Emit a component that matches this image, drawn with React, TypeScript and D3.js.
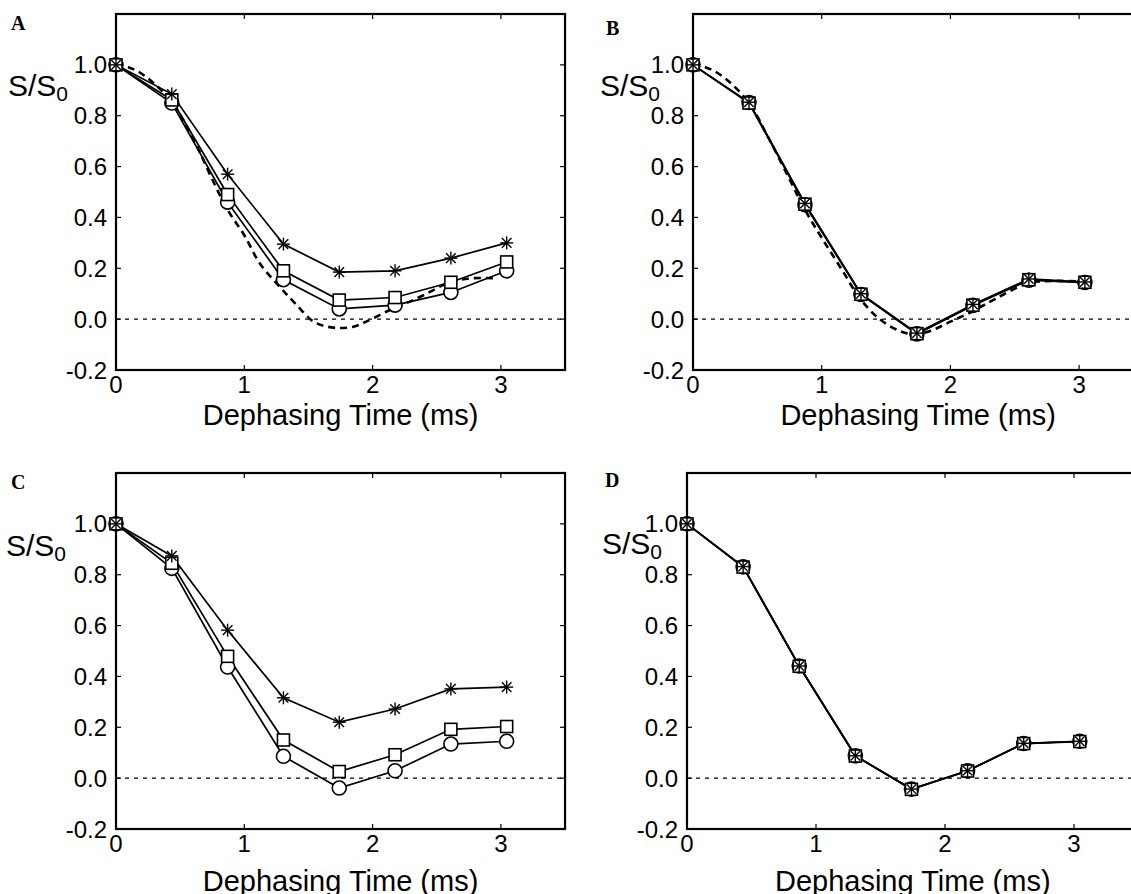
import React from 'react';
import * as d3 from 'd3';

const W = 1131;
const H = 894;

// dephasing times (ms) shared by every panel
const times = [0, 0.435, 0.87, 1.305, 1.74, 2.175, 2.61, 3.045];
const xTicks = [0, 1, 2, 3];
const yTicks = [-0.2, 0, 0.2, 0.4, 0.6, 0.8, 1.0];

// panel A
const aStar = [1.0, 0.885, 0.57, 0.295, 0.185, 0.19, 0.24, 0.3];
const aSquare = [1.0, 0.862, 0.49, 0.19, 0.075, 0.085, 0.145, 0.225];
const aCircle = [1.0, 0.85, 0.46, 0.155, 0.04, 0.055, 0.105, 0.19];
const simTimesA = [0, 0.1, 0.2, 0.3, 0.435, 0.55, 0.65, 0.75, 0.87, 1.0, 1.12, 1.28, 1.4, 1.54, 1.65, 1.75, 1.85, 1.95, 2.11, 2.25, 2.4, 2.58, 2.75, 2.97];
const simA = [1.0, 0.99, 0.965, 0.925, 0.855, 0.76, 0.66, 0.55, 0.43, 0.33, 0.22, 0.125, 0.06, -0.01, -0.03, -0.035, -0.03, -0.01, 0.03, 0.06, 0.095, 0.14, 0.16, 0.16];

// panel B
const bStar = [1.0, 0.853, 0.455, 0.1, -0.055, 0.058, 0.158, 0.146];
const bSquare = [1.0, 0.85, 0.452, 0.098, -0.057, 0.055, 0.155, 0.145];
const bCircle = [1.0, 0.852, 0.45, 0.097, -0.058, 0.054, 0.153, 0.144];
const simTimesB = [0, 0.1, 0.2, 0.3, 0.435, 0.6, 0.75, 0.87, 1.0, 1.15, 1.3, 1.45, 1.6, 1.72, 1.85, 2.0, 2.17, 2.35, 2.6, 2.8, 3.04];
const simB = [1.0, 0.99, 0.965, 0.925, 0.85, 0.7, 0.55, 0.43, 0.32, 0.2, 0.08, 0.0, -0.045, -0.06, -0.045, -0.01, 0.03, 0.08, 0.14, 0.15, 0.148];

// panel C
const cStar = [1.0, 0.874, 0.582, 0.316, 0.22, 0.272, 0.351, 0.358];
const cSquare = [1.0, 0.845, 0.479, 0.15, 0.026, 0.092, 0.192, 0.203];
const cCircle = [1.0, 0.825, 0.437, 0.086, -0.039, 0.029, 0.134, 0.145];

// panel D
const dStar = [1.0, 0.832, 0.441, 0.088, -0.043, 0.029, 0.137, 0.145];
const dSquare = [1.0, 0.83, 0.44, 0.087, -0.044, 0.028, 0.136, 0.144];
const dCircle = [1.0, 0.831, 0.441, 0.088, -0.043, 0.029, 0.136, 0.145];

const SANS = 'Liberation Sans, Arial, Helvetica, sans-serif';

const panels = [
  { id: 'A', left: 116, top: 14, unit: 128.3, star: aStar, square: aSquare, circle: aCircle, simX: simTimesA, simY: simA, letter: [11, 30], ylab: [8, 96], titleDy: 55 },
  { id: 'B', left: 693, top: 14, unit: 128.7, star: bStar, square: bSquare, circle: bCircle, simX: simTimesB, simY: simB, letter: [606, 35], ylab: [600, 96], titleDy: 55 },
  { id: 'C', left: 116, top: 473, unit: 128.3, star: cStar, square: cSquare, circle: cCircle, letter: [11, 489], ylab: [6, 556], titleDy: 62 },
  { id: 'D', left: 687, top: 473, unit: 129, star: dStar, square: dSquare, circle: dCircle, letter: [605, 487], ylab: [602, 554], titleDy: 62 },
];

function Star({ cx, cy }) {
  const r = 6.5, d = 4.8;
  return (
    <g stroke="#000" strokeWidth={1.4}>
      <line x1={cx} y1={cy - r} x2={cx} y2={cy + r} />
      <line x1={cx - r} y1={cy} x2={cx + r} y2={cy} />
      <line x1={cx - d} y1={cy - d} x2={cx + d} y2={cy + d} />
      <line x1={cx - d} y1={cy + d} x2={cx + d} y2={cy - d} />
    </g>
  );
}

function Panel({ p }) {
  const height = 356;
  const x = d3.scaleLinear().domain([0, 3.5]).range([p.left, p.left + 3.5 * p.unit]);
  const y = d3.scaleLinear().domain([-0.2, 1.2]).range([p.top + height, p.top]);
  const line = d3.line<number>().x((_, i) => x(times[i])).y(d => y(d));
  const bottom = y(-0.2);
  const right = x(3.5);

  let sim = null;
  if (p.simX) {
    const simLine = d3.line<number>().x((_, i) => x(p.simX[i])).y(d => y(d)).curve(d3.curveCatmullRom);
    sim = <path d={simLine(p.simY)} fill="none" stroke="#000" strokeWidth={2.6} strokeDasharray="7 5" />;
  }

  return (
    <g>
      <rect x={x(0)} y={y(1.2)} width={right - x(0)} height={bottom - y(1.2)} fill="none" stroke="#000" strokeWidth={2.2} />
      {xTicks.filter(t => t > 0).map(t => (
        <g key={'xt' + t} stroke="#000" strokeWidth={1.2}>
          <line x1={x(t)} x2={x(t)} y1={y(1.2)} y2={y(1.2) + 5} />
          <line x1={x(t)} x2={x(t)} y1={bottom} y2={bottom - 5} />
        </g>
      ))}
      {yTicks.filter(t => t > -0.2).map(t => (
        <g key={'yt' + t} stroke="#000" strokeWidth={1.2}>
          <line x1={x(0)} x2={x(0) + 5} y1={y(t)} y2={y(t)} />
          <line x1={right} x2={right - 5} y1={y(t)} y2={y(t)} />
        </g>
      ))}
      <line x1={x(0)} x2={right} y1={y(0)} y2={y(0)} stroke="#000" strokeWidth={1.3} strokeDasharray="4 5" />
      {[p.circle, p.square, p.star].map((s, k) => (
        <path key={'l' + k} d={line(s)} fill="none" stroke="#000" strokeWidth={1.7} />
      ))}
      {sim}
      {p.circle.map((v, i) => (
        <circle key={'c' + i} cx={x(times[i])} cy={y(v)} r={7} fill="#fff" stroke="#000" strokeWidth={1.6} />
      ))}
      {p.square.map((v, i) => (
        <rect key={'s' + i} x={x(times[i]) - 6} y={y(v) - 6} width={12} height={12} fill="#fff" stroke="#000" strokeWidth={1.6} />
      ))}
      {p.star.map((v, i) => (
        <Star key={'st' + i} cx={x(times[i])} cy={y(v)} />
      ))}
      {xTicks.map(t => (
        <text key={'xl' + t} x={x(t)} y={bottom + 23} textAnchor="middle" fontFamily={SANS} fontSize={24}>{t}</text>
      ))}
      {yTicks.map(t => (
        <text key={'yl' + t} x={x(0) - 9} y={y(t)} dy="0.36em" textAnchor="end" fontFamily={SANS} fontSize={24}>{t.toFixed(1)}</text>
      ))}
      <text x={(x(0) + right) / 2} y={bottom + p.titleDy} textAnchor="middle" fontFamily={SANS} fontSize={29}>Dephasing Time (ms)</text>
      <text x={p.ylab[0]} y={p.ylab[1]} fontFamily={SANS} fontSize={30}>
        S/S<tspan fontSize={21} dy={5}>0</tspan>
      </text>
      <text x={p.letter[0]} y={p.letter[1]} fontFamily="Liberation Serif, Times New Roman, serif" fontWeight="bold" fontSize={20}>{p.id}</text>
    </g>
  );
}

export default function App() {
  return (
    <svg width={W} height={H} style={{ position: 'absolute', left: 0, top: 0, background: '#fff' }}>
      <rect width={W} height={H} fill="#fff" />
      {panels.map(p => <Panel key={p.id} p={p} />)}
    </svg>
  );
}
